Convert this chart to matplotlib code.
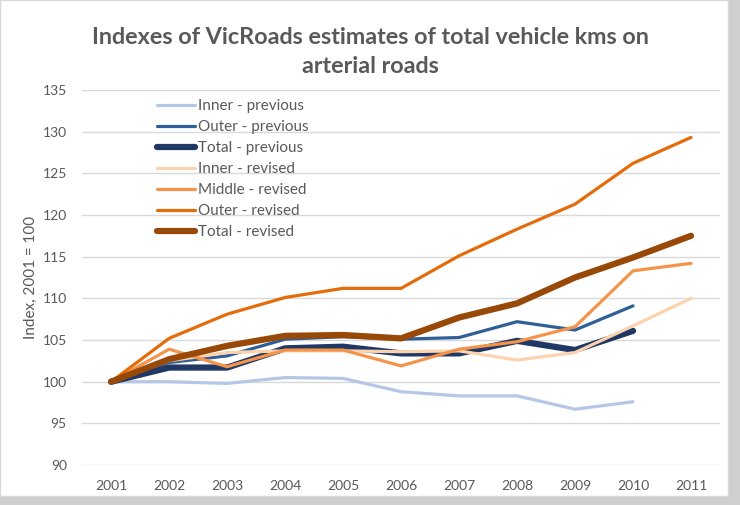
import matplotlib.pyplot as plt
from matplotlib.patches import Rectangle

years = ['2001', '2002', '2003', '2004', '2005', '2006',
         '2007', '2008', '2009', '2010', '2011']

inner_previous = [100, 100.0, 99.8, 100.5, 100.4, 98.8, 98.3, 98.3, 96.7, 97.6]
outer_previous = [100, 102.3, 103.1, 105.1, 105.4, 105.1, 105.3, 107.2, 106.2, 109.1]
total_previous = [100, 101.7, 101.7, 104.0, 104.2, 103.4, 103.4, 104.9, 103.8, 106.1]
inner_revised = [100, 102.5, 103.5, 103.7, 103.7, 103.6, 103.7, 102.6, 103.5, 106.7, 110.0]
middle_revised = [100, 103.9, 101.8, 103.8, 103.8, 101.9, 103.9, 104.8, 106.6, 113.3, 114.2]
outer_revised = [100, 105.2, 108.1, 110.1, 111.2, 111.2, 115.1, 118.3, 121.3, 126.2, 129.3]
total_revised = [100, 102.7, 104.3, 105.5, 105.6, 105.2, 107.7, 109.4, 112.5, 114.9, 117.5]

series = [
    ('Inner - previous', inner_previous, '#b4c7e7', 2.3),
    ('Outer - previous', outer_previous, '#2f5f97', 2.3),
    ('Total - previous', total_previous, '#203864', 4.5),
    ('Inner - revised', inner_revised, '#fbd3ad', 2.3),
    ('Middle - revised', middle_revised, '#f4934a', 2.3),
    ('Outer - revised', outer_revised, '#e46c0a', 2.3),
    ('Total - revised', total_revised, '#984807', 4.5),
]

text_grey = '#595959'


def main():
    fig = plt.figure(figsize=(7.4, 5.05), dpi=100)
    fig.patch.set_facecolor('#cfcfcf')
    fig.patches.append(Rectangle((0.0, 0.018), 0.984, 0.982, transform=fig.transFigure,
                                 facecolor='white', edgecolor='#d9d9d9', lw=1, zorder=-10))

    ax = fig.add_axes([0.111, 0.079, 0.862, 0.743])
    ax.set_facecolor('none')

    for label, values, color, lw in series:
        x = list(range(len(values)))
        ax.plot(x, values, color=color, lw=lw, label=label, solid_capstyle='round',
                solid_joinstyle='round')

    ax.set_xlim(-0.5, len(years) - 0.5)
    ax.set_ylim(90, 135)
    ax.set_xticks(range(len(years)))
    ax.set_xticklabels(years)
    ax.set_yticks(range(90, 136, 5))
    ax.grid(axis='y', color='#d9d9d9', lw=1)
    ax.set_axisbelow(True)
    for side in ['top', 'right', 'left', 'bottom']:
        ax.spines[side].set_visible(False)
    ax.tick_params(axis='both', length=0, colors=text_grey, labelsize=10, pad=11)
    ax.set_ylabel('Index, 2001 = 100', color=text_grey, fontsize=11, labelpad=3)

    fig.text(0.5, 0.897, 'Indexes of VicRoads estimates of total vehicle kms on\narterial roads',
             ha='center', va='center', fontsize=16.8, fontweight='bold', color=text_grey,
             linespacing=1.45)

    leg = ax.legend(loc='upper left', bbox_to_anchor=(0.107, 0.992), frameon=False,
                    fontsize=11, handlelength=2.5, handletextpad=0.2, labelspacing=0.46,
                    borderaxespad=0)
    for t in leg.get_texts():
        t.set_color(text_grey)

    fig.savefig('out.png', dpi=100, facecolor=fig.get_facecolor())


if __name__ == '__main__':
    plt.rcParams['font.family'] = ['Lato', 'DejaVu Sans']
    main()
